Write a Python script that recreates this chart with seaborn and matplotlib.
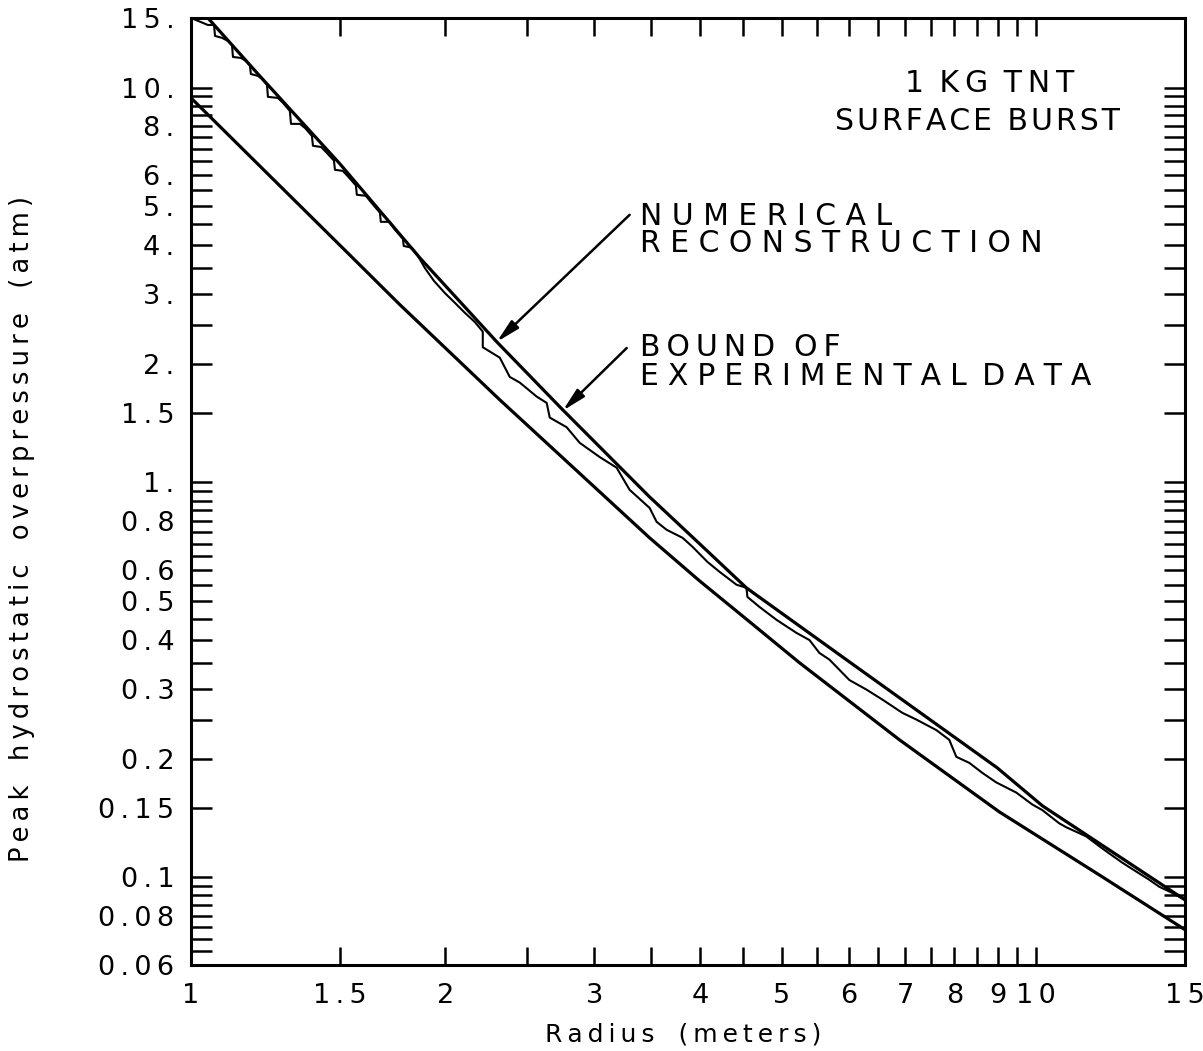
import matplotlib
matplotlib.use("Agg")
import matplotlib.pyplot as plt
from matplotlib.ticker import FixedLocator, FixedFormatter, NullFormatter
import pandas as pd
import seaborn as sns

# Upper bound of the experimental data: radius (m), peak overpressure (atm)
bound_radius = [1.047, 1.2, 1.5, 1.866, 2.30, 2.753, 3.488, 3.998, 4.54,
                6.01, 8.99, 10.17, 15.0]
bound_pressure = [15.0, 10.82, 6.41, 3.70, 2.27, 1.527, 0.919, 0.699, 0.541,
                  0.3514, 0.1895, 0.1518, 0.0877]

# Lower smooth curve
lower_radius = [1.0, 1.554, 1.767, 2.319, 3.044, 3.488, 3.998, 4.579, 5.247,
                6.89, 9.04, 11.87, 15.0]
lower_pressure = [9.41, 3.70, 2.817, 1.619, 0.947, 0.724, 0.563, 0.444,
                  0.3495, 0.223, 0.1466, 0.1015, 0.0737]

# Numerical reconstruction (stepped trace)
numerical_radius = [
    1.0, 1.047, 1.0646, 1.0675, 1.088, 1.106, 1.118, 1.121, 1.146, 1.161,
    1.174, 1.177, 1.200, 1.213, 1.230, 1.233, 1.267, 1.285, 1.309, 1.313,
    1.345, 1.364, 1.390, 1.394, 1.425, 1.444, 1.476, 1.480, 1.512, 1.533,
    1.567, 1.571, 1.610, 1.632, 1.673, 1.677, 1.719, 1.742, 1.781, 1.785,
    1.825, 1.855, 1.891, 1.938, 1.996, 2.052, 2.108, 2.166, 2.214, 2.214,
    2.319, 2.383, 2.449, 2.564, 2.635, 2.657, 2.782, 2.883, 3.044, 3.188,
    3.303, 3.488, 3.555, 3.653, 3.816, 3.921, 4.084, 4.220, 4.419, 4.541,
    4.553, 4.705, 4.928, 5.204, 5.391, 5.540, 5.693, 6.011, 6.295, 6.576,
    6.944, 7.214, 7.618, 7.891, 8.043, 8.333, 8.633, 8.968, 9.470, 9.892,
    10.17, 10.65, 10.85, 11.46, 11.87, 12.20, 12.64, 12.99, 13.60, 13.98,
    14.48, 15.0]
numerical_pressure = [
    15.0, 14.40, 14.40, 13.51, 13.36, 13.12, 12.82, 11.95, 11.88, 11.68,
    11.37, 10.82, 10.70, 10.52, 10.15, 9.47, 9.41, 9.14, 8.72, 8.09,
    8.09, 7.90, 7.54, 7.12, 7.07, 6.87, 6.53, 6.19, 6.15, 5.96,
    5.65, 5.35, 5.32, 5.13, 4.82, 4.57, 4.57, 4.37, 4.14, 3.97,
    3.93, 3.75, 3.49, 3.24, 3.02, 2.85, 2.69, 2.55, 2.41, 2.20,
    2.07, 1.85, 1.79, 1.65, 1.59, 1.46, 1.38, 1.26, 1.16, 1.09,
    0.958, 0.862, 0.795, 0.759, 0.724, 0.687, 0.629, 0.594, 0.551, 0.541,
    0.513, 0.484, 0.449, 0.416, 0.399, 0.370, 0.356, 0.316, 0.299, 0.282,
    0.261, 0.251, 0.236, 0.223, 0.202, 0.195, 0.184, 0.174, 0.164, 0.153,
    0.148, 0.137, 0.134, 0.127, 0.120, 0.115, 0.109, 0.105, 0.0987, 0.0947,
    0.0914, 0.0877]

# Axis ticks and labels
x_major = [1, 1.5, 2, 3, 4, 5, 6, 7, 8, 9, 10, 15]
x_major_labels = ["1", "1.5", "2", "3", "4", "5", "6", "7", "8", "9", "10", "15"]
x_minor = [2.5, 3.5, 4.5, 5.5, 6.5, 7.5, 8.5, 9.5]
y_major = [0.06, 0.08, 0.1, 0.15, 0.2, 0.3, 0.4, 0.5, 0.6, 0.8, 1, 1.5, 2, 3,
           4, 5, 6, 8, 10, 15]
y_major_labels = ["0.06", "0.08", "0.1", "0.15", "0.2", "0.3", "0.4", "0.5",
                  "0.6", "0.8", "1.", "1.5", "2.", "3.", "4.", "5.", "6.",
                  "8.", "10.", "15."]
y_minor = [0.065, 0.07, 0.075, 0.085, 0.09, 0.095, 0.25, 0.35, 0.45, 0.55,
           0.65, 0.7, 0.75, 0.85, 0.9, 0.95, 2.5, 3.5, 4.5, 5.5, 6.5, 7, 7.5,
           8.5, 9, 9.5]

THIN = "\u2009"
HAIR = "\u200a"


def spaced(text, gap=THIN, word_gap="   "):
    """Letter-space a string the way the plotter lettering is set."""
    return word_gap.join(gap.join(w) for w in text.split(" "))


sns.set_style("ticks")
plt.rcParams["font.family"] = ["DejaVu Sans"]
plt.rcParams["axes.linewidth"] = 2.2
plt.rcParams["axes.edgecolor"] = "black"

fig = plt.figure(figsize=(12.03, 10.51), dpi=100)
fig.patch.set_facecolor("white")
ax = fig.add_axes([0.1588, 0.0818, 0.8263, 0.9011])
ax.set_facecolor("white")

curves = pd.concat([
    pd.DataFrame({"radius": bound_radius, "pressure": bound_pressure, "curve": "bound"}),
    pd.DataFrame({"radius": lower_radius, "pressure": lower_pressure, "curve": "lower"}),
])
sns.lineplot(data=curves, x="radius", y="pressure", units="curve",
             estimator=None, sort=False, color="black", linewidth=2.3,
             ax=ax, legend=False)
sns.lineplot(x=numerical_radius, y=numerical_pressure, estimator=None,
             sort=False, color="black", linewidth=1.5, ax=ax)

ax.set_xscale("log")
ax.set_yscale("log")
ax.set_xlim(1, 15)
ax.set_ylim(0.06, 15)

ax.xaxis.set_major_locator(FixedLocator(x_major))
ax.xaxis.set_major_formatter(FixedFormatter([spaced(t) for t in x_major_labels]))
ax.xaxis.set_minor_locator(FixedLocator(x_minor))
ax.xaxis.set_minor_formatter(NullFormatter())
ax.yaxis.set_major_locator(FixedLocator(y_major))
ax.yaxis.set_major_formatter(FixedFormatter([spaced(t) for t in y_major_labels]))
ax.yaxis.set_minor_locator(FixedLocator(y_minor))
ax.yaxis.set_minor_formatter(NullFormatter())

ax.tick_params(axis="both", which="both", direction="in", top=True,
               right=True, color="black", width=1.8, labelsize=19.5,
               labelcolor="black")
ax.tick_params(axis="x", which="both", length=13, pad=13)
ax.tick_params(axis="y", which="both", length=15, pad=12)
for side in ["top", "right", "bottom", "left"]:
    ax.spines[side].set_visible(True)
    ax.spines[side].set_linewidth(2.2)

ax.set_xlabel(spaced("Radius (meters)"), fontsize=18, color="black")
ax.set_ylabel(spaced("Peak hydrostatic overpressure (atm)"), fontsize=18.5,
              color="black")
ax.xaxis.set_label_coords(0.495, -0.061)
ax.xaxis.label.set_va("top")
ax.yaxis.set_label_coords(-0.157, 0.46)

# Hand lettered notes
note = dict(transform=ax.transAxes, fontsize=21.5, color="black",
            va="baseline", ha="left")
ax.text(0.718, 0.922, spaced("1 KG TNT", THIN, " " + THIN), **note)
ax.text(0.648, 0.882, spaced("SURFACE BURST", HAIR, " " + THIN), **note)
ax.text(0.4517, 0.7814, spaced("NUMERICAL", " "), **note)
ax.text(0.4517, 0.7529, spaced("RECONSTRUCTION", " "), **note)
ax.text(0.4517, 0.6431, spaced("BOUND OF", THIN, "  "), **note)
ax.text(0.4517, 0.6125, spaced("EXPERIMENTAL DATA", THIN + HAIR, " " + THIN),
        **note)

arrow = dict(arrowstyle="-|>,head_length=0.7,head_width=0.16", color="black",
             lw=1.8, shrinkA=0, shrinkB=0, mutation_scale=20)
ax.annotate("", xy=(2.30, 2.27), xytext=(3.303, 4.76), arrowprops=arrow)
ax.annotate("", xy=(2.753, 1.52), xytext=(3.277, 2.19), arrowprops=arrow)

fig.savefig("out.png", dpi=100, facecolor="white")
